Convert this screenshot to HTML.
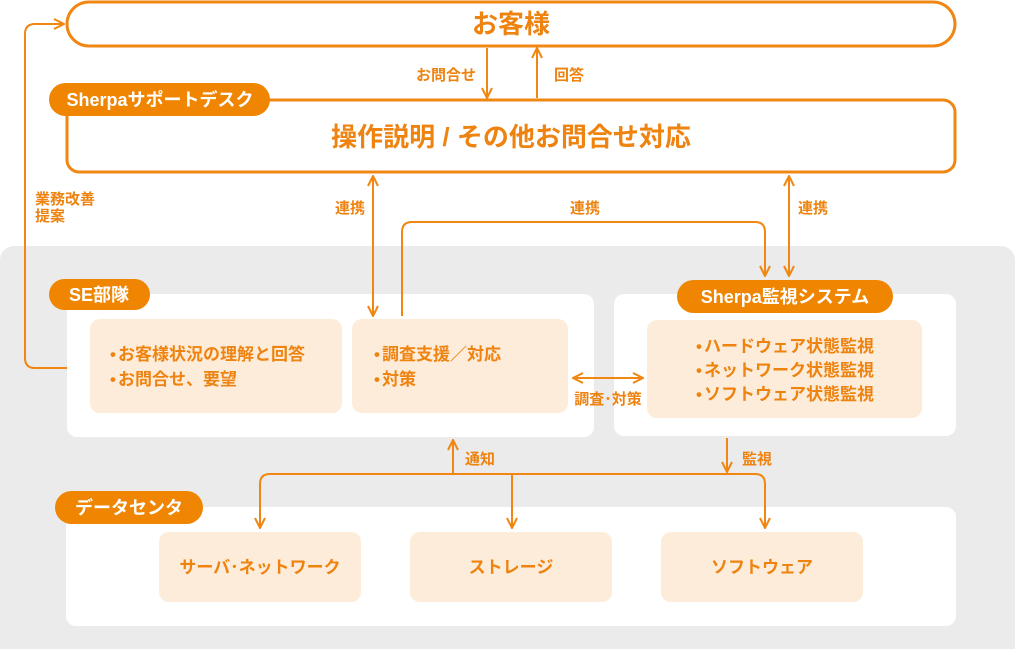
<!DOCTYPE html>
<html><head><meta charset="utf-8"><style>
html,body{margin:0;padding:0;background:#fff;}
svg{display:block;}
text{font-family:"Liberation Sans","Noto Sans CJK JP",sans-serif;font-weight:bold;}
</style></head><body>
<svg width="1015" height="649" viewBox="0 0 1015 649" xmlns="http://www.w3.org/2000/svg">
<defs>
<marker id="a" viewBox="0 0 12 12" refX="11" refY="6" markerWidth="12" markerHeight="12" markerUnits="userSpaceOnUse" orient="auto-start-reverse">
<path d="M1,1 L11,6 L1,11" fill="none" stroke="#ef8712" stroke-width="2"/>
</marker>
</defs>
<rect x="0" y="246" width="1015" height="420" rx="14" fill="#ebebeb"/>
<rect x="67" y="294" width="527" height="143" rx="10" fill="#fff"/>
<rect x="90" y="319" width="252" height="94" rx="10" fill="#fdecd9"/>
<rect x="352" y="319" width="216" height="94" rx="10" fill="#fdecd9"/>
<rect x="614" y="294" width="342" height="142" rx="10" fill="#fff"/>
<rect x="647" y="320" width="275" height="98" rx="10" fill="#fdecd9"/>
<rect x="66" y="507" width="890" height="119" rx="10" fill="#fff"/>
<rect x="159" y="532" width="202" height="70" rx="10" fill="#fdecd9"/>
<rect x="410" y="532" width="202" height="70" rx="10" fill="#fdecd9"/>
<rect x="661" y="532" width="202" height="70" rx="10" fill="#fdecd9"/>

<rect x="67" y="2" width="888" height="44" rx="22" fill="#fff" stroke="#ef8712" stroke-width="3"/>
<text x="511" y="33" font-size="26" fill="#ee8310" text-anchor="middle">お客様</text>
<g stroke="#ef8712" stroke-width="2" fill="none">
<line x1="487" y1="48" x2="487" y2="98" marker-end="url(#a)"/>
<line x1="537" y1="98" x2="537" y2="48" marker-end="url(#a)"/>
</g>
<text x="476" y="80" font-size="15" fill="#ee8310" text-anchor="end">お問合せ</text>
<text x="554" y="80" font-size="15" fill="#ee8310">回答</text>
<rect x="67" y="100" width="888" height="72" rx="12" fill="#fff" stroke="#ef8712" stroke-width="3"/>
<rect x="49" y="83" width="221" height="33" rx="16.5" fill="#ef8500"/>
<text x="160" y="106" font-size="18" fill="#fff" text-anchor="middle">Sherpaサポートデスク</text>
<text x="511" y="146" font-size="26" fill="#ee8310" text-anchor="middle">操作説明 / その他お問合せ対応</text>
<path d="M67,368 L35,368 Q25,368 25,358 L25,34 Q25,24 35,24 L64,24" fill="none" stroke="#ef8712" stroke-width="2" marker-end="url(#a)"/>
<text x="35" y="204" font-size="15" fill="#ee8310">業務改善</text>
<text x="35" y="221" font-size="15" fill="#ee8310">提案</text>
<g stroke="#ef8712" stroke-width="2" fill="none">
<line x1="373" y1="176" x2="373" y2="316" marker-start="url(#a)" marker-end="url(#a)"/>
<path d="M402,316 L402,232 Q402,222 412,222 L755,222 Q765,222 765,232 L765,276" marker-end="url(#a)"/>
<line x1="789" y1="176" x2="789" y2="276" marker-start="url(#a)" marker-end="url(#a)"/>
<line x1="573" y1="378" x2="643" y2="378" marker-start="url(#a)" marker-end="url(#a)"/>
<line x1="727" y1="438" x2="727" y2="472" marker-end="url(#a)"/>
<line x1="453" y1="474" x2="453" y2="440" marker-end="url(#a)"/>
<path d="M260,528 L260,484 Q260,474 270,474 L755,474 Q765,474 765,484 L765,528" marker-end="url(#a)"/>
<line x1="260" y1="490" x2="260" y2="528" marker-end="url(#a)"/>
<line x1="512" y1="474" x2="512" y2="528" marker-end="url(#a)"/>
</g>
<text x="350" y="213" font-size="15" fill="#ee8310" text-anchor="middle">連携</text>
<text x="585" y="213" font-size="15" fill="#ee8310" text-anchor="middle">連携</text>
<text x="813" y="213" font-size="15" fill="#ee8310" text-anchor="middle">連携</text>
<text x="608" y="404" font-size="15" fill="#ee8310" text-anchor="middle">調査･対策</text>
<text x="465" y="464" font-size="15" fill="#ee8310">通知</text>
<text x="742" y="464" font-size="15" fill="#ee8310">監視</text>

<rect x="49" y="279" width="101" height="31" rx="15.5" fill="#ef8500"/>
<text x="99" y="301" font-size="18" fill="#fff" text-anchor="middle">SE部隊</text>
<rect x="677" y="280" width="216" height="33" rx="16.5" fill="#ef8500"/>
<text x="785" y="303" font-size="18" fill="#fff" text-anchor="middle">Sherpa監視システム</text>
<rect x="55" y="491" width="148" height="33" rx="16.5" fill="#ef8500"/>
<text x="129" y="514" font-size="18" fill="#fff" text-anchor="middle">データセンタ</text>

<g font-size="17" fill="#ee8310">
<text x="110" y="360">•</text><text x="118" y="360">お客様状況の理解と回答</text>
<text x="110" y="385">•</text><text x="118" y="385">お問合せ、要望</text>
<text x="374" y="360">•</text><text x="382" y="360">調査支援／対応</text>
<text x="374" y="385">•</text><text x="382" y="385">対策</text>
<text x="696" y="352">•</text><text x="704" y="352">ハードウェア状態監視</text>
<text x="696" y="376">•</text><text x="704" y="376">ネットワーク状態監視</text>
<text x="696" y="400">•</text><text x="704" y="400">ソフトウェア状態監視</text>
<text x="260" y="573" text-anchor="middle">サーバ･ネットワーク</text>
<text x="511" y="573" text-anchor="middle">ストレージ</text>
<text x="762" y="573" text-anchor="middle">ソフトウェア</text>
</g>
</svg>
</body></html>
